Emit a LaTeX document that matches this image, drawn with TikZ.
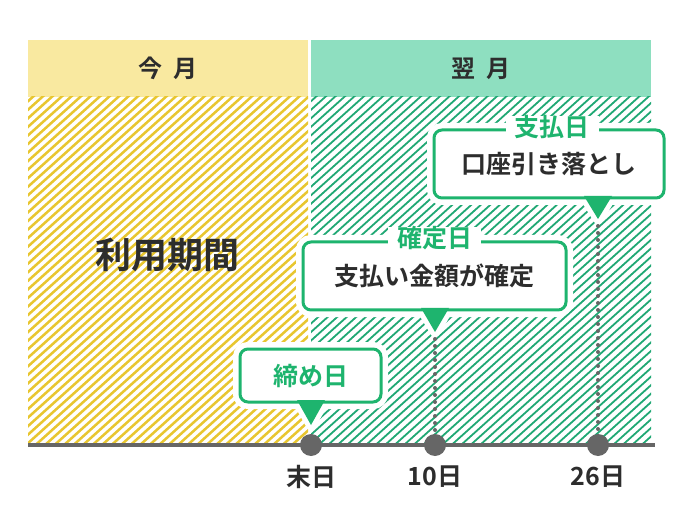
\documentclass[tikz,border=0pt]{standalone}
\usepackage{fontspec}
\setmainfont{Noto Sans CJK JP}[BoldFont={* Bold}]
\usepackage{tikz}
\usetikzlibrary{positioning}
\definecolor{yellowHead}{RGB}{249,233,160}
\definecolor{yellowLine}{RGB}{232,198,48}
\definecolor{greenHead}{RGB}{142,223,192}
\definecolor{greenLine}{RGB}{32,168,116}
\definecolor{callGreen}{RGB}{30,180,110}
\definecolor{darkText}{RGB}{45,45,45}
\definecolor{lineGray}{RGB}{102,102,102}
\newcommand{\fsz}[1]{\fontsize{#1}{#1}\selectfont}

\begin{document}
\begin{tikzpicture}[x=1pt, y=-1pt, every node/.style={font=\bfseries, text=darkText},
    head/.style={minimum height=57, inner sep=0, font=\bfseries\fsz{24}},
    hatchYellow/.style={draw=yellowLine, line width=2.5},
    hatchGreen/.style={draw=greenLine, line width=1.8},
    timeline/.style={draw=lineGray, line width=4},
    dot/.style={circle, fill=lineGray, minimum size=22, inner sep=0},
    dateLabel/.style={font=\bfseries\fsz{25}},
    dotLine/.style={draw=lineGray, line width=4, line cap=round, dash pattern=on 0pt off 7pt},
    callBox/.style={draw=callGreen, line width=3, rounded corners=8, fill=white,
        preaction={draw=white, line width=14}, inner sep=0, font=\bfseries\fsz{25}},
    callTitle/.style={fill=white, text=callGreen, inner xsep=9, inner ysep=0, font=\bfseries\fsz{25}},
    tipHalo/.style={draw=white, line width=10, line join=round}]
    \useasboundingbox (0,0) rectangle (690,518);

    % month headers
    \node[head, fill=yellowHead, minimum width=280] (thisMonth) at (168,68.5) {今\hspace{11pt}月};
    \node[head, fill=greenHead, minimum width=340] (nextMonth) at (481,68.5) {翌\hspace{11pt}月};

    % hatched periods
    \begin{scope}
        \clip (28,97) rectangle (308,445);
        \foreach \x in {-392,-382.5,...,308} \draw[hatchYellow] (\x,445) -- ++(400,-360);
    \end{scope}
    \begin{scope}
        \clip (311,97) rectangle (651,445);
        \foreach \x in {-109,-99.5,...,651} \draw[hatchGreen] (\x,445) -- ++(400,-360);
    \end{scope}

    \node[font=\bfseries\fsz{36}] (usage) at (167,255) {利用期間};

    % timeline
    \coordinate (tlLeft) at (28,445);
    \coordinate (tlRight) at (655,445);
    \draw[timeline] (tlLeft) -- (tlRight);

    \coordinate (shimeTip) at (311,425);
    \coordinate (kakuteiTip) at (435,332);
    \coordinate (shiharaiTip) at (598,219);

    \node[dot] (dEnd) at (311,445) {};
    \node[dot] (d10) at (435,445) {};
    \node[dot] (d26) at (598,445) {};
    \draw[dotLine] (kakuteiTip) -- (d10);
    \draw[dotLine] (shiharaiTip) -- (d26);

    \node[dateLabel] (lEnd) at (311,477) {末日};
    \node[dateLabel] (l10) at (435,477) {10日};
    \node[dateLabel] (l26) at (598,477) {26日};

    % callouts
    \draw[tipHalo] (shimeTip) -- ++(-14,-25) -- ++(28,0) -- cycle;
    \node[callBox, minimum width=141, minimum height=53, text=callGreen] (shime) at (310.5,375.5) {締め日};
    \fill[callGreen] (shimeTip) -- ++(-14,-25) -- ++(28,0) -- cycle;

    \draw[tipHalo] (kakuteiTip) -- ++(-14,-24) -- ++(28,0) -- cycle;
    \node[callBox, minimum width=263, minimum height=68] (kakutei) at (434.5,276) {支払い金額が確定};
    \fill[callGreen] (kakuteiTip) -- ++(-14,-24) -- ++(28,0) -- cycle;
    \node[callTitle] (kakuteiTitle) at ([yshift=2pt]kakutei.north) {確定日};

    \draw[tipHalo] (shiharaiTip) -- ++(-14,-23) -- ++(28,0) -- cycle;
    \node[callBox, minimum width=230, minimum height=68] (shiharai) at (549,164) {口座引き落とし};
    \fill[callGreen] (shiharaiTip) -- ++(-14,-23) -- ++(28,0) -- cycle;
    \node[callTitle] (shiharaiTitle) at ([xshift=3pt, yshift=1pt]shiharai.north) {支払日};
\end{tikzpicture}
\end{document}
